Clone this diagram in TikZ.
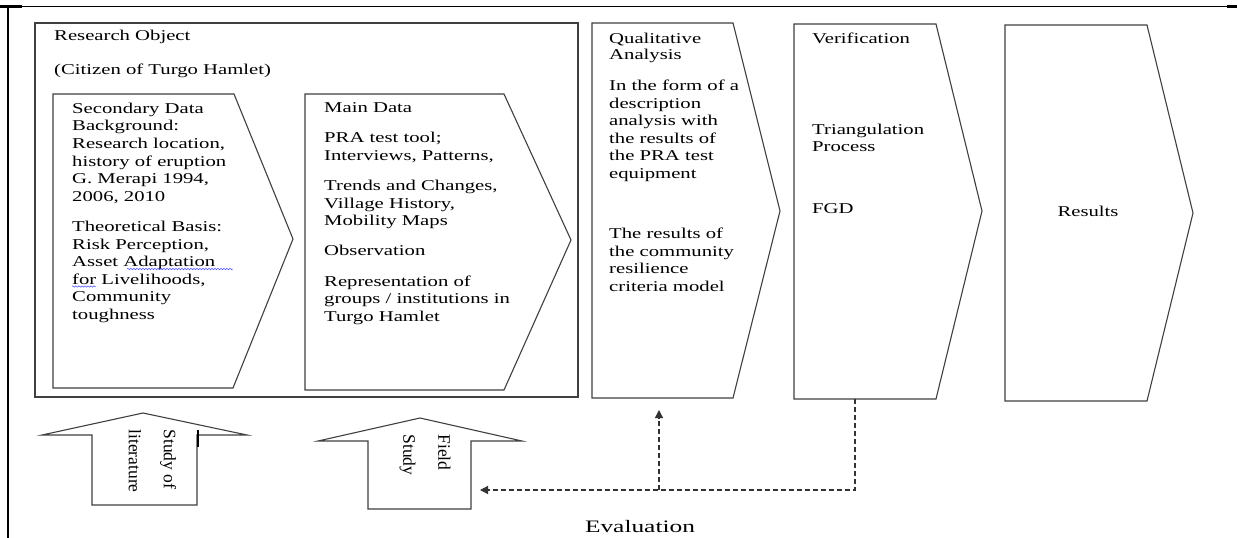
\documentclass[tikz,border=0pt]{standalone}
\usepackage{fontspec}
\setmainfont{Liberation Serif}
\newfontfamily\bodyfont{Liberation Serif}[FakeStretch=1.38]
\newfontfamily\evalfont{Liberation Serif}[FakeStretch=1.45]
\usetikzlibrary{arrows.meta,decorations.pathmorphing}
\begin{document}
\begin{tikzpicture}[x=1pt,y=-1pt,
  shapeline/.style={draw=black!75, line width=1.1pt, line join=miter},
  framed/.style={draw=black, line width=2.4pt},
  body/.style={font={\bodyfont\fontsize{15}{17.6}\selectfont}, inner sep=0pt, anchor=base west, align=left},
  para/.style={body, anchor=north west},
  vtext/.style={font={\fontsize{17.5}{35}\selectfont}, inner sep=0pt, align=left, rotate=-90},
  dashline/.style={draw=black!80, line width=1.2pt, dash pattern=on 5pt off 3pt},
  tip/.style={-{Triangle[length=8pt,width=8pt]}},
  squiggle/.style={draw=blue!70, line width=0.5pt, decorate, decoration={snake, amplitude=0.7pt, segment length=3pt}}
]
\useasboundingbox (0,0) rectangle (1237,538);
\fill[white] (0,0) rectangle (1237,538);

% outer frame
\coordinate (ftl) at (0,6);
\coordinate (ftr) at (1237,6);
\coordinate (fl) at (8,6);
\coordinate (flb) at (8,538);
\draw[draw=black, line width=0.9pt] (ftl) -- (ftr);
\draw[framed] (fl) -- (flb);
\draw[draw=black, line width=2.6pt] (0,6.5) -- (22,6.5);
\draw[draw=black, line width=2.6pt] (1227,6.5) -- (1237,6.5);

% research object box
\draw[shapeline] (35,23) rectangle (578,397);
\node[body] (ro) at (54,40) {Research Object};
\node[body] (cit) at (54,74) {(Citizen of Turgo Hamlet)};

% secondary data chevron
\draw[shapeline] (53,94) -- (234,94) -- (293,239) -- (233,388) -- (53,388) -- cycle;
\node[para] (sec) at (72,102.7) {Secondary Data\\Background:\\Research location,\\history of eruption\\G. Merapi 1994,\\2006, 2010\\[12.5pt]Theoretical Basis:\\Risk Perception,\\Asset Adaptation\\for Livelihoods,\\Community\\toughness};
\draw[squiggle] (127,269) -- (233,269);
\draw[squiggle] (72,286.5) -- (96,286.5);

% main data chevron
\draw[shapeline] (305,94) -- (504,94) -- (571,240) -- (504,390) -- (305,390) -- cycle;
\node[para] (main) at (324,102.7) {Main Data\\[12.5pt]PRA test tool;\\Interviews, Patterns,\\[12.5pt]Trends and Changes,\\Village History,\\Mobility Maps\\[12.5pt]Observation\\[12.5pt]Representation of\\groups / institutions in\\Turgo Hamlet};

% qualitative analysis chevron
\draw[shapeline] (592,23) -- (733,23) -- (780,211) -- (733,398) -- (592,398) -- cycle;
\node[para] (qt) at (609,32.7) {Qualitative\\[-1.6pt]Analysis};
\node[para] (q1) at (609,79.7) {In the form of a\\description\\analysis with\\the results of\\the PRA test\\equipment};
\node[para] (q2) at (609,227.7) {The results of\\the community\\resilience\\criteria model};

% verification chevron
\draw[shapeline] (794,24) -- (936,24) -- (982,211) -- (936,399) -- (794,399) -- cycle;
\node[body] (vt) at (812,43) {Verification};
\node[para] (tp) at (812,123.7) {Triangulation\\Process};
\node[body] (fgd) at (812,213) {FGD};

% results chevron
\draw[shapeline] (1005,25) -- (1147,25) -- (1193,213) -- (1147,401) -- (1005,401) -- cycle;
\node[body, anchor=center] (res) at (1088,211) {Results};

% study of literature arrow
\draw[shapeline] (92,505) -- (92,435) -- (42,435) -- (143,413) -- (247,435) -- (197,435) -- (197,505) -- cycle;
\draw[draw=black, line width=2pt] (198,430) -- (198,447);
\node[vtext] (lit) at (152.5,461) {Study of\\literature};

% field study arrow
\draw[shapeline] (368,509) -- (368,441) -- (318,441) -- (420,418) -- (522,441) -- (471,441) -- (471,509) -- cycle;
\node[vtext] (fs) at (425,455) {Field\\Study};

% evaluation connectors
\coordinate (vbot) at (855,399);
\coordinate (fieldR) at (480,490);
\coordinate (junc) at (659,490);
\coordinate (qbot) at (659,410);
\draw[dashline, tip] (vbot) |- (fieldR);
\draw[dashline, tip] (junc) -- (qbot);

\node[font={\evalfont\fontsize{17.5}{20}\selectfont}, inner sep=0pt] (ev) at (640,527) {Evaluation};
\end{tikzpicture}
\end{document}
